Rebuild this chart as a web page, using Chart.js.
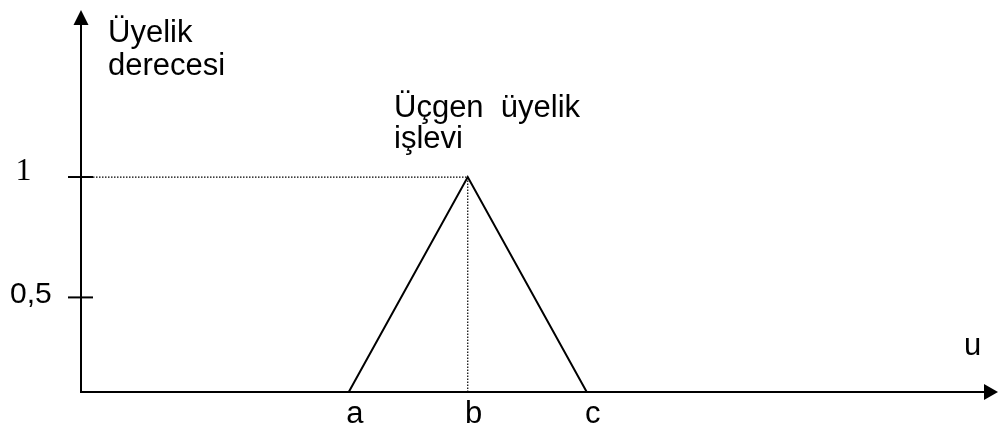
<!DOCTYPE html>
<html>
<head>
<meta charset="utf-8">
<script src="https://cdn.jsdelivr.net/npm/chart.js@4"></script>
<style>
  html, body { margin: 0; padding: 0; background: #fff; }
  #wrap { width: 998px; height: 428px; position: relative; }
</style>
</head>
<body>
<div id="wrap"><canvas id="chart"></canvas></div>
<script>
// x ekseni üzerindeki noktalar (a, b, c)
var xLabels = ["a", "b", "c"];
var xValues = [2.25, 3.25, 4.25];
// üyelik derecesi
var memberValues = [0, 1, 0];
// y ekseni tikleri (resimde 0,5 tiki biraz aşağıda çizilmiş)
var yTicks = [0.44, 1];
var yTickLabels = ["0,5", "1"];
// eksen metinleri
var yTitle = ["Üyelik", "derecesi"];
var xTitle = "u";
var noteText = ["Üçgen  üyelik", "işlevi"];

var SANS = "'Liberation Sans', Arial, sans-serif";
var SERIF = "'Liberation Serif', 'Times New Roman', serif";

var triangle = xValues.map(function (v, i) { return { x: v, y: memberValues[i] }; });
var peakX = xValues[1];
var peakY = memberValues[1];

// eksenler, oklar, tikler ve yazılar
var axesPlugin = {
  id: "axes",
  afterDraw: function (chart) {
    var ctx = chart.ctx;
    var area = chart.chartArea;
    var xs = chart.scales.x;
    var ys = chart.scales.y;
    var x0 = xs.getPixelForValue(0);
    var y0 = ys.getPixelForValue(0);

    ctx.save();
    ctx.strokeStyle = "#000";
    ctx.fillStyle = "#000";
    ctx.lineWidth = 2;

    // y ekseni
    ctx.beginPath();
    ctx.moveTo(x0, y0 + 1);
    ctx.lineTo(x0, area.top + 12);
    ctx.stroke();
    ctx.beginPath();
    ctx.moveTo(x0, area.top);
    ctx.lineTo(x0 - 7.5, area.top + 15);
    ctx.lineTo(x0 + 7.5, area.top + 15);
    ctx.closePath();
    ctx.fill();

    // x ekseni
    ctx.beginPath();
    ctx.moveTo(x0 - 1, y0);
    ctx.lineTo(area.right - 12, y0);
    ctx.stroke();
    ctx.beginPath();
    ctx.moveTo(area.right, y0);
    ctx.lineTo(area.right - 14, y0 - 8);
    ctx.lineTo(area.right - 14, y0 + 8);
    ctx.closePath();
    ctx.fill();

    // y tikleri
    yTicks.forEach(function (t) {
      var py = ys.getPixelForValue(t);
      ctx.beginPath();
      ctx.moveTo(x0 - 13, py);
      ctx.lineTo(x0 + 12, py);
      ctx.stroke();
    });

    // tik yazıları
    ctx.textBaseline = "alphabetic";
    ctx.textAlign = "left";
    ctx.font = "30px " + SANS;
    ctx.fillText(yTickLabels[0], 10, ys.getPixelForValue(yTicks[0]) + 6);
    ctx.font = "32px " + SERIF;
    ctx.textAlign = "center";
    ctx.fillText(yTickLabels[1], 23.5, ys.getPixelForValue(yTicks[1]) + 3);

    // a, b, c
    ctx.font = "31px " + SANS;
    xLabels.forEach(function (l, i) {
      ctx.fillText(l, xs.getPixelForValue(xValues[i]) + 6, 423);
    });

    // başlıklar
    ctx.textAlign = "left";
    ctx.fillText(yTitle[0], x0 + 27, 42);
    ctx.fillText(yTitle[1], x0 + 27, 75);
    ctx.fillText(xTitle, 964, 355);
    ctx.fillText(noteText[0], 394, 117);
    ctx.fillText(noteText[1], 394, 148);

    ctx.restore();
  }
};

var ctx1 = document.getElementById("chart");
var myChart = new Chart(ctx1, {
  type: "scatter",
  data: {
    datasets: [
      {
        // üçgen üyelik işlevi
        data: triangle,
        showLine: true,
        borderColor: "#000",
        borderWidth: 2,
        pointRadius: 0,
        fill: false,
        clip: false
      },
      {
        // yatay noktalı çizgi
        data: [{ x: 0, y: peakY }, { x: peakX, y: peakY }],
        showLine: true,
        borderColor: "#000",
        borderWidth: 1.2,
        borderDash: [1.5, 1.5],
        pointRadius: 0,
        clip: false
      },
      {
        // dikey noktalı çizgi
        data: [{ x: peakX, y: 0 }, { x: peakX, y: peakY }],
        showLine: true,
        borderColor: "#000",
        borderWidth: 1.2,
        borderDash: [1.5, 1.5],
        pointRadius: 0,
        clip: false
      }
    ]
  },
  options: {
    responsive: true,
    maintainAspectRatio: false,
    animation: false,
    layout: {
      padding: { left: 81, right: 0, top: 10, bottom: 36 }
    },
    plugins: {
      legend: { display: false },
      tooltip: { enabled: false }
    },
    scales: {
      x: { type: "linear", min: 0, max: 7.706, display: false },
      y: { type: "linear", min: 0, max: 1.777, display: false }
    }
  },
  plugins: [axesPlugin]
});
</script>
</body>
</html>
